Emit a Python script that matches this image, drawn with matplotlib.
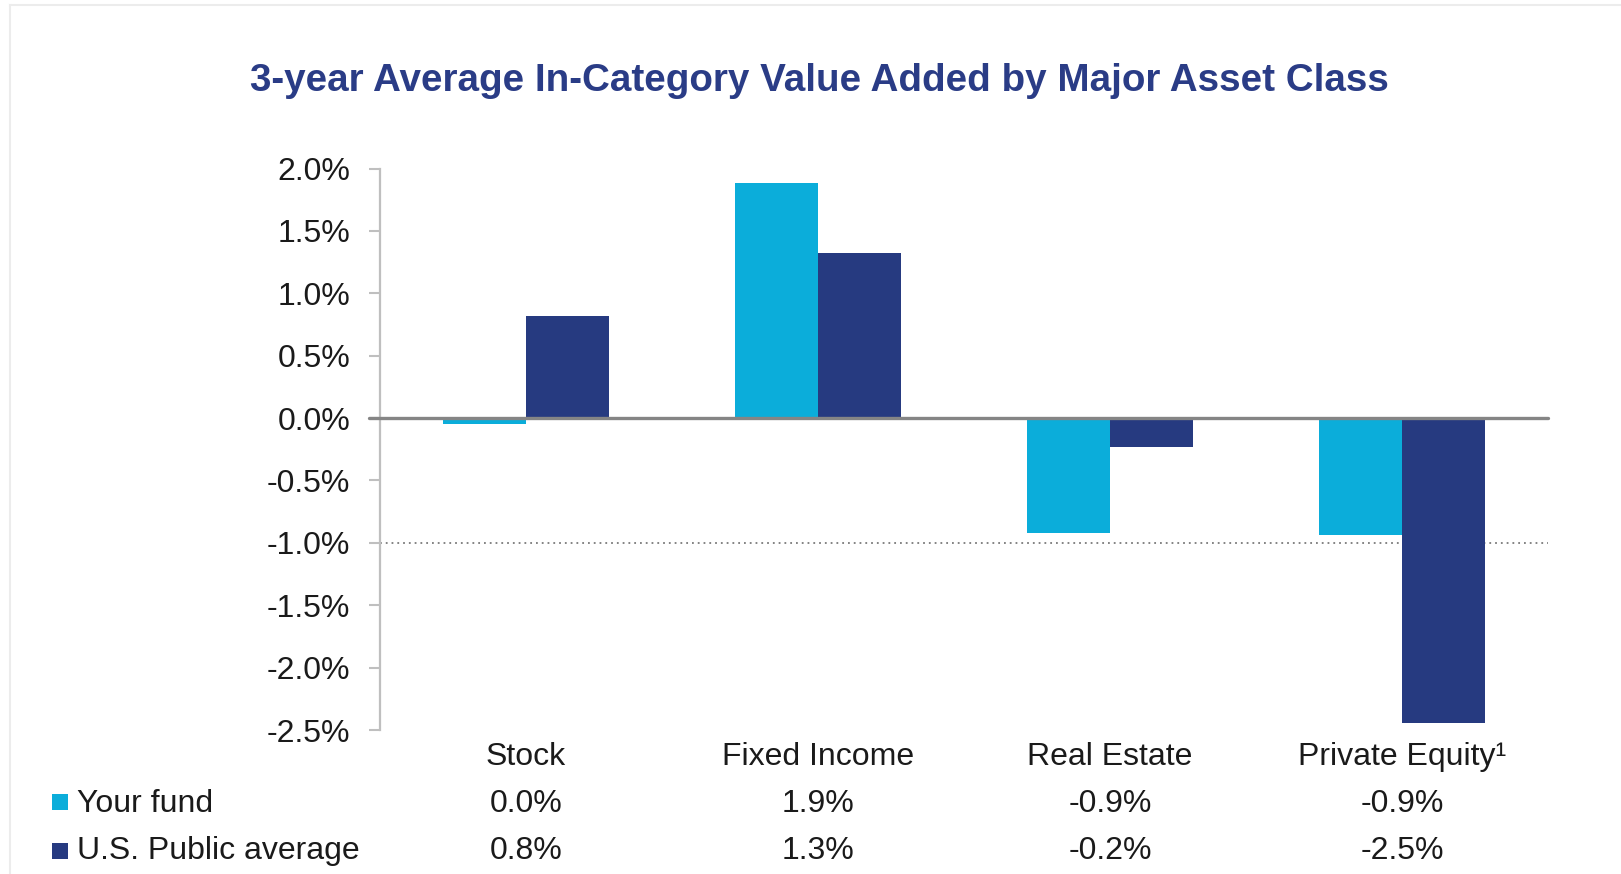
import matplotlib
matplotlib.use("Agg")
import matplotlib.pyplot as plt
import numpy as np
from matplotlib import transforms
from matplotlib.patches import Rectangle
from matplotlib.lines import Line2D

# ---------------- data ----------------
categories = ["Stock", "Fixed Income", "Real Estate", "Private Equity\u00b9"]
series_names = ["Your fund", "U.S. Public average"]
your_fund = [-0.05, 1.88, -0.92, -0.94]
us_public = [0.82, 1.32, -0.23, -2.44]
your_fund_labels = ["0.0%", "1.9%", "-0.9%", "-0.9%"]
us_public_labels = ["0.8%", "1.3%", "-0.2%", "-2.5%"]
ytick_values = [2.0, 1.5, 1.0, 0.5, 0.0, -0.5, -1.0, -1.5, -2.0, -2.5]
ytick_labels = ["2.0%", "1.5%", "1.0%", "0.5%", "0.0%", "-0.5%", "-1.0%", "-1.5%", "-2.0%", "-2.5%"]
title = "3-year Average In-Category Value Added by Major Asset Class"

# ---------------- style ----------------
CYAN = "#0badda"
NAVY = "#263a80"
TITLE_C = "#2a3c86"
TEXT_C = "#1a1a1a"
GRID_C = "#bfbfbf"
ZERO_C = "#858585"
FS = 23

plt.rcParams['font.family'] = ['Liberation Sans', 'DejaVu Sans']

W, H = 1621, 874
fig = plt.figure(figsize=(W / 100, H / 100), dpi=100)

def fx(px):
    return px / W

def fy(py):
    return 1 - py / H

ax_left, ax_right, ax_top, ax_bottom = 380, 1548, 168.5, 730
ax = fig.add_axes([fx(ax_left), fy(ax_bottom), (ax_right - ax_left) / W, (ax_bottom - ax_top) / H])

x = np.arange(len(categories))
w = 0.283
ax.bar(x - w / 2, your_fund, w, color=CYAN, zorder=2, linewidth=0)
ax.bar(x + w / 2, us_public, w, color=NAVY, zorder=2, linewidth=0)

ax.set_xlim(-0.5, len(categories) - 0.5)
ax.set_ylim(-2.5, 2.0)

# reference lines
ax.axhline(-1.0, color="#7a7a7a", lw=1.3, ls=(0, (1, 2.2)), zorder=1)
zero_trans = transforms.blended_transform_factory(ax.transAxes, ax.transData)
ax.add_line(Line2D([-11 / (ax_right - ax_left), 1], [0, 0], transform=zero_trans,
                   color=ZERO_C, lw=2.4, zorder=3, clip_on=False, solid_capstyle='round'))

# spines / ticks
for s in ["top", "right", "bottom"]:
    ax.spines[s].set_visible(False)
ax.spines["left"].set_color(GRID_C)
ax.spines["left"].set_linewidth(1.6)
ax.set_yticks(ytick_values)
ax.set_yticklabels(ytick_labels)
ax.tick_params(axis="y", length=8, width=1.5, color=GRID_C, pad=13.5,
               labelsize=FS, labelcolor=TEXT_C)
ax.set_xticks([])

# category labels & table
bt = transforms.blended_transform_factory(ax.transData, fig.transFigure)
for i, cat in enumerate(categories):
    ax.text(x[i], fy(765), cat, transform=bt, ha="center", va="baseline",
            fontsize=FS, color=TEXT_C, clip_on=False)
    ax.text(x[i], fy(812), your_fund_labels[i], transform=bt, ha="center", va="baseline",
            fontsize=FS, color=TEXT_C, clip_on=False)
    ax.text(x[i], fy(859), us_public_labels[i], transform=bt, ha="center", va="baseline",
            fontsize=FS, color=TEXT_C, clip_on=False)

# legend squares and row labels
for name, color, base, sq_top in [(series_names[0], CYAN, 812, 793.5),
                                  (series_names[1], NAVY, 859, 842.5)]:
    fig.add_artist(Rectangle((fx(51.5), fy(sq_top + 16.5)), 16.5 / W, 16.5 / H,
                             transform=fig.transFigure, color=color, lw=0))
    fig.text(fx(77), fy(base), name, ha="left", va="baseline", fontsize=FS, color=TEXT_C)

# title (fit to target width)
t = fig.text(fx(819), fy(91), title, ha="center", va="baseline", fontsize=24,
             fontweight="bold", color=TITLE_C)
r = fig.canvas.get_renderer()
bw = t.get_window_extent(renderer=r).width
t.set_fontsize(24 * 1142 / bw)

# faint frame lines of the source screenshot
fig.add_artist(Line2D([fx(10), 1], [fy(5), fy(5)], transform=fig.transFigure, color="#ececec", lw=1.5))
fig.add_artist(Line2D([fx(10), fx(10)], [fy(5), 0], transform=fig.transFigure, color="#ececec", lw=1.5))

fig.savefig("out.png", dpi=100)
